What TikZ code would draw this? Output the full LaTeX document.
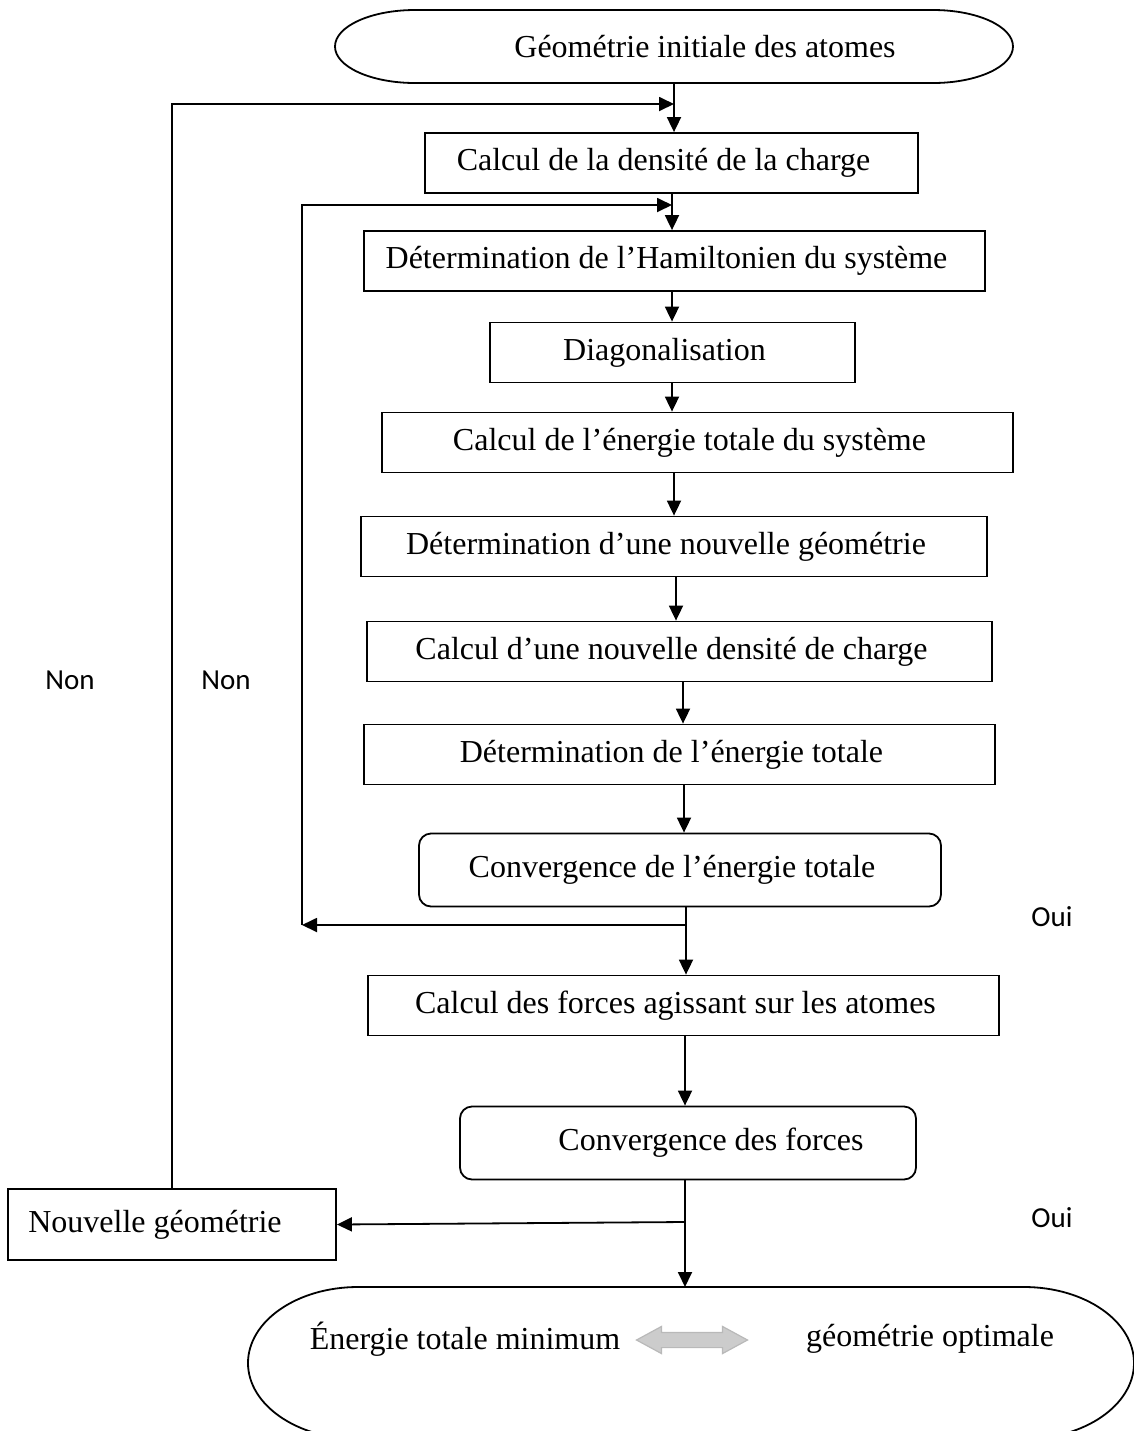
\documentclass[tikz,border=0pt]{standalone}
\usepackage{fontspec}
\setmainfont{Liberation Serif}
\newfontfamily\ouinon{Carlito}
\usetikzlibrary{arrows.meta,shapes.arrows}

\begin{document}
\begin{tikzpicture}[x=0.5pt,y=-0.5pt,>={Triangle[length=7.5pt,width=7pt]},line width=0.9pt]
  \tikzstyle{every node}=[font=\fontsize{16}{19}\selectfont]
  \tikzstyle{etape}=[draw,rectangle,minimum height=30pt,inner sep=2pt,execute at end node={\hspace*{8pt}}]
  \tikzstyle{test}=[etape,rounded corners=6pt,minimum height=36.5pt]
  \tikzstyle{bout}=[inner sep=0pt,outer sep=0pt]
  \tikzstyle{reponse}=[font=\ouinon\fontsize{14.5}{17}\selectfont]

  \useasboundingbox (0,0) rectangle (1134,1431);

  % les etapes
  \node[bout,minimum width=339pt,minimum height=36.5pt] (debut) at (674,46.5) {\hspace*{31pt}G\'eom\'etrie initiale des atomes};
  \node[etape,minimum width=246.5pt] (densite)   at (671.5,163)   {Calcul de la densit\'e de la charge};
  \node[etape,minimum width=310.5pt] (hamilt)    at (674.5,261)   {D\'etermination de l'Hamiltonien du syst\`eme};
  \node[etape,minimum width=182.5pt] (diag)      at (672.5,352.5) {Diagonalisation};
  \node[etape,minimum width=315.5pt] (etot)      at (697.5,442.5) {Calcul de l'\'energie totale du syst\`eme};
  \node[etape,minimum width=313pt]   (geom)      at (674,546.5)   {D\'etermination d'une nouvelle g\'eom\'etrie};
  \node[etape,minimum width=312.5pt] (ndensite)  at (679.5,651.5) {Calcul d'une nouvelle densit\'e de charge};
  \node[etape,minimum width=315.5pt] (netot)     at (679.5,754.5) {D\'etermination de l'\'energie totale};
  \node[test,minimum width=261pt]    (convE)     at (680,870)     {Convergence de l'\'energie totale};
  \node[etape,minimum width=315.5pt] (forces)    at (683.5,1005.5) {Calcul des forces agissant sur les atomes};
  \node[test,minimum width=228pt]    (convF)     at (688,1143)    {\hspace*{31pt}Convergence des forces};
  \node[etape,minimum width=164pt,minimum height=35.5pt,execute at end node={\hspace*{9pt}}] (nouvgeom) at (172,1224.5) {Nouvelle g\'eom\'etrie};
  \node[bout,minimum width=443pt,minimum height=76pt] (fin) at (691,1363) {};
  \node (emin)  at (465,1339) {\'Energie totale minimum};
  \node (gopt)  at (930,1339) {g\'eom\'etrie optimale};
  \node[double arrow,draw=gray!55,fill=gray!40,line width=0.6pt,inner xsep=0pt,inner ysep=3.5pt,
        minimum height=55.5pt,double arrow head extend=3pt,double arrow tip angle=57] (equiv) at (692,1340) {};

  % cadres arrondis du debut et de la fin
  \draw ([xshift=40pt]debut.north west) -- ([xshift=-40pt]debut.north east)
        arc[start angle=90,end angle=-90,x radius=40pt,y radius=18.25pt]
        -- ([xshift=40pt]debut.south west)
        arc[start angle=270,end angle=90,x radius=40pt,y radius=18.25pt] -- cycle;
  \draw ([xshift=55pt]fin.north west) -- ([xshift=-55pt]fin.north east)
        arc[start angle=90,end angle=-90,x radius=55pt,y radius=38pt]
        -- ([xshift=55pt]fin.south west)
        arc[start angle=270,end angle=90,x radius=55pt,y radius=38pt] -- cycle;

  % points de jonction
  \coordinate (entree1) at (674,104);
  \coordinate (entree2) at (672,205);
  \coordinate (sortie1) at (686,925);
  \coordinate (sortie2) at (685,1222);
  \coordinate (retour)  at (302,925);

  \path[->] (debut.south -| 674,0)    edge (densite.north -| 674,0)
            (densite.south -| 672,0)  edge (hamilt.north -| 672,0)
            (hamilt.south -| 672,0)   edge (diag.north -| 672,0)
            (diag.south -| 672,0)     edge (etot.north -| 672,0)
            (etot.south -| 674,0)     edge (geom.north -| 674,0)
            (geom.south -| 676,0)     edge (ndensite.north -| 676,0)
            (ndensite.south -| 683,0) edge (netot.north -| 683,0)
            (netot.south -| 684,0)    edge (convE.north -| 684,0)
            (convE.south -| 686,0)    edge (forces.north -| 686,0)
            (forces.south -| 685,0)   edge (convF.north -| 685,0)
            (convF.south -| 685,0)    edge (fin.north -| 685,0)
            (sortie1) edge (retour)
            (sortie2) edge (nouvgeom.east);

  % boucles
  \draw[->] (retour) |- (entree2);
  \draw[->] (nouvgeom.north) |- (entree1);

  \node[reponse] (non1) at (70,680)   {Non};
  \node[reponse] (non2) at (226,680)  {Non};
  \node[reponse] (oui1) at (1052,917) {Oui};
  \node[reponse] (oui2) at (1052,1218) {Oui};
\end{tikzpicture}
\end{document}
